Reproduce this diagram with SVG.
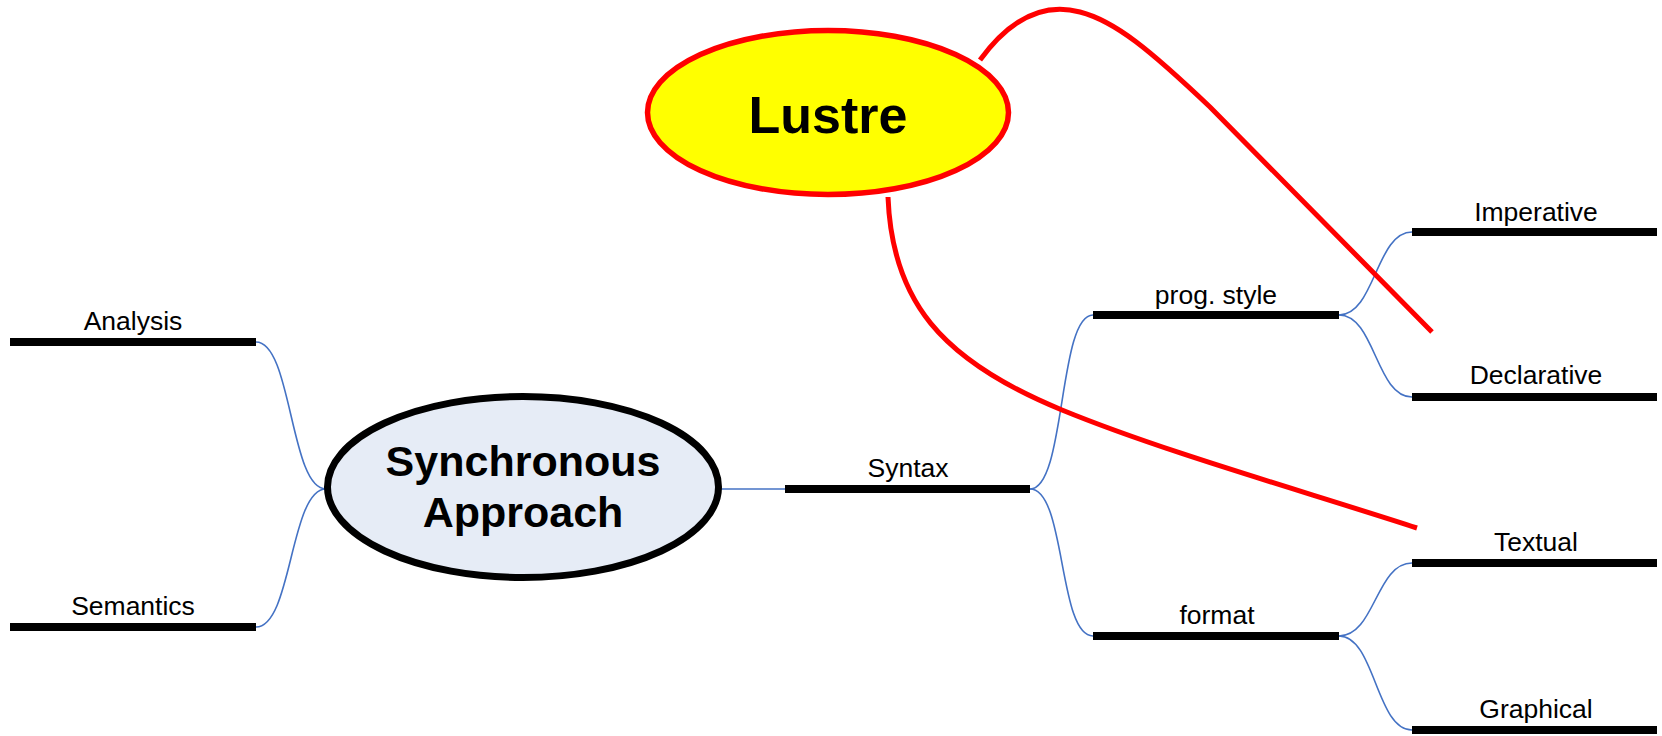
<svg xmlns="http://www.w3.org/2000/svg" width="1662" height="736" viewBox="0 0 1662 736">
  <style>
    .bar { stroke: #000; stroke-width: 8; fill: none; }
    .link { stroke: #4472C4; stroke-width: 1.6; fill: none; }
    .red { stroke: #FF0000; stroke-width: 5; fill: none; }
    .lbl { font-family: "Liberation Sans", Arial, sans-serif; font-size: 26.5px; fill: #000; text-anchor: middle; }
    .big { font-family: "Liberation Sans", Arial, sans-serif; font-weight: bold; fill: #000; text-anchor: middle; }
  </style>
  <rect width="1662" height="736" fill="#fff"/>

  <!-- tree connectors -->
  <g id="connectors">
    <path class="link" d="M256,342 C292,342 290,489 326,489"/>
    <path class="link" d="M256,627 C292,627 290,489 326,489"/>
    <path class="link" d="M720,489 L785,489"/>
    <path class="link" d="M1030,489 C1066,489 1058,315 1093,315"/>
    <path class="link" d="M1030,489 C1066,489 1058,636 1093,636"/>
    <path class="link" d="M1339,315 C1375,315 1376,232 1412,232"/>
    <path class="link" d="M1339,315 C1375,315 1376,397 1412,397"/>
    <path class="link" d="M1339,636 C1375,636 1376,563 1412,563"/>
    <path class="link" d="M1339,636 C1375,636 1376,730 1412,730"/>
  </g>

  <!-- central topic -->
  <g id="synchronous">
    <ellipse cx="523" cy="487" rx="195.5" ry="90.5" fill="#E6ECF6" stroke="#000" stroke-width="7"/>
    <text class="big" x="523" y="476" font-size="43">Synchronous</text>
    <text class="big" x="523" y="527" font-size="43">Approach</text>
  </g>

  <!-- branches -->
  <g id="analysis">
    <line class="bar" x1="10" y1="342" x2="256" y2="342"/>
    <text class="lbl" x="133" y="330">Analysis</text>
  </g>
  <g id="semantics">
    <line class="bar" x1="10" y1="627" x2="256" y2="627"/>
    <text class="lbl" x="133" y="615">Semantics</text>
  </g>
  <g id="syntax">
    <line class="bar" x1="785" y1="489" x2="1030" y2="489"/>
    <text class="lbl" x="908" y="477">Syntax</text>
  </g>
  <g id="prog-style">
    <line class="bar" x1="1093" y1="315" x2="1339" y2="315"/>
    <text class="lbl" x="1216" y="304">prog. style</text>
  </g>
  <g id="format">
    <line class="bar" x1="1093" y1="636" x2="1339" y2="636"/>
    <text class="lbl" x="1217" y="624">format</text>
  </g>
  <g id="imperative">
    <line class="bar" x1="1412" y1="232" x2="1657" y2="232"/>
    <text class="lbl" x="1536" y="221">Imperative</text>
  </g>
  <g id="declarative">
    <line class="bar" x1="1412" y1="397" x2="1657" y2="397"/>
    <text class="lbl" x="1536" y="384">Declarative</text>
  </g>
  <g id="textual">
    <line class="bar" x1="1412" y1="563" x2="1657" y2="563"/>
    <text class="lbl" x="1536" y="551">Textual</text>
  </g>
  <g id="graphical">
    <line class="bar" x1="1412" y1="730" x2="1657" y2="730"/>
    <text class="lbl" x="1536" y="718">Graphical</text>
  </g>

  <!-- Lustre callout and its red pointers -->
  <g id="lustre-links">
    <path class="red" d="M980,60 C1015,12 1050,4 1080,12 C1115,21 1150,50 1210,107 L1432,332"/>
    <path class="red" d="M888,197 C892,300 940,360 1062,410 C1162,451 1300,490 1417,528"/>
  </g>
  <g id="lustre">
    <ellipse cx="828" cy="112.5" rx="180.5" ry="82" fill="#FFFF00" stroke="#FF0000" stroke-width="5.5"/>
    <text class="big" x="828" y="133" font-size="52">Lustre</text>
  </g>
</svg>
